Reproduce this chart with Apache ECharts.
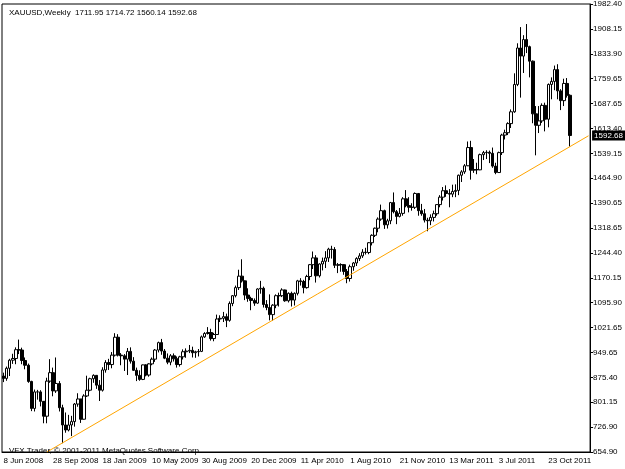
<!DOCTYPE html>
<html><head><meta charset="utf-8">
<script src="https://cdn.jsdelivr.net/npm/echarts@6/dist/echarts.min.js"></script>
<style>html,body{margin:0;padding:0;background:#fff}#c{width:625px;height:469px}</style>
</head><body><div id="c"></div>
<script>
const opens=[880,873,903,927,932,958,957,926,912,864,784,833,833,805,761,865,890,836,858,786,735,720,735,745,797,812,752,821,838,872,
882,853,838,898,920,914,942,995,942,940,930,953,924,897,882,870,913,883,916,930,957,979,954,933,921,940,931,914,937,952,954,956,949,952,953,996,1006,1009,991,1003,1049,1051,1056,1045,1095,1118,1142,1176,1162,1120,1110,1104,
1096,1138,1140,1092,1083,1062,1090,1118,1118,1135,1103,1125,1105,1125,1162,1160,1142,1175,1210,1230,1177,1212,1220,1230,1256,1255,1208,1210,1210,1190,1169,1204,1215,1228,1236,1247,1246,1275,1297,1318,1345,1370,1328,1340,1394,1367,1353,1362,1405,1385,1380,
1380,1421,1370,1361,1342,1340,1350,1361,1388,1410,1429,1421,1419,1427,1430,1475,1485,1503,1557,1490,1492,1491,1536,1542,1543,1540,1502,1483,1542,1594,1601,1628,1663,1744,1852,1828,1877,1856,1813,1657,1623,1636,1682,1641,1744,1753,1788,1725,1696,1747,1711.95];
const closes=[873,903,927,932,958,957,926,912,864,784,833,833,805,761,865,890,836,858,786,735,720,735,745,797,812,752,821,838,872,882,
853,838,898,920,914,942,995,942,940,930,953,924,897,882,870,913,883,916,930,957,979,954,933,921,940,931,914,937,952,954,956,949,952,953,996,1006,1009,991,1003,1049,1051,1056,1045,1095,1118,1142,1176,1162,1120,1110,1104,1096,
1138,1140,1092,1083,1062,1090,1118,1118,1135,1103,1125,1105,1125,1162,1160,1142,1175,1210,1230,1177,1212,1220,1230,1256,1255,1208,1210,1210,1190,1169,1204,1215,1228,1236,1247,1246,1275,1297,1318,1345,1370,1328,1340,1394,1367,1353,1362,1405,1385,1380,1380,
1421,1370,1361,1342,1340,1350,1361,1388,1410,1429,1421,1419,1427,1430,1475,1485,1503,1557,1490,1492,1491,1536,1542,1543,1540,1502,1483,1542,1594,1601,1628,1663,1744,1852,1828,1877,1856,1813,1657,1623,1636,1682,1641,1744,1753,1788,1725,1696,1747,1712,1592.68];
const highs=[890,908,931,946,965,988,964,935,917,866,840,839,838,806,875,930,905,935,865,795,772,765,762,800,829,812,826,881,875,885,
883,868,906,927,931,951,1007,1004,948,945,963,965,936,905,897,914,915,918,935,960,982,990,960,947,945,947,938,940,959,962,972,967,955,960,1000,1010,1025,1020,1008,1062,1060,1070,1065,1101,1120,1148,1195,1226,1163,1140,1115,1110,
1140,1162,1145,1105,1122,1093,1122,1127,1140,1136,1128,1130,1128,1165,1170,1165,1180,1212,1249,1238,1214,1231,1250,1260,1266,1262,1215,1214,1212,1197,1210,1218,1232,1244,1256,1260,1277,1300,1320,1350,1388,1373,1346,1396,1424,1372,1378,1410,1431,1410,1392,
1424,1422,1390,1375,1349,1359,1370,1389,1416,1440,1445,1434,1447,1448,1477,1490,1508,1575,1577,1523,1512,1539,1547,1549,1548,1557,1512,1545,1598,1610,1632,1670,1777,1866,1914,1890,1923,1859,1815,1680,1680,1688,1690,1747,1765,1800,1804,1730,1761,1763,1714.72];
const lows=[862,866,880,916,915,945,915,900,860,776,775,810,790,740,740,860,820,830,775,681,712,716,702,730,789,741,751,818,835,860,
842,806,834,890,898,903,938,938,912,895,883,917,895,865,866,868,879,878,912,922,950,943,930,915,912,923,905,908,929,934,948,935,934,938,951,993,1003,985,983,1002,1040,1040,1025,1041,1087,1113,1135,1157,1105,1100,1075,1088,
1094,1124,1083,1075,1045,1044,1081,1086,1114,1100,1098,1086,1089,1119,1148,1125,1139,1164,1197,1157,1172,1193,1200,1218,1228,1200,1185,1189,1180,1155,1160,1192,1206,1221,1230,1240,1241,1267,1292,1306,1340,1316,1317,1330,1362,1330,1350,1355,1380,1365,1370,
1375,1355,1355,1335,1309,1327,1338,1355,1380,1400,1411,1380,1410,1410,1416,1455,1479,1502,1462,1482,1478,1490,1520,1523,1511,1497,1478,1482,1535,1581,1594,1615,1660,1739,1705,1778,1837,1765,1629,1534,1600,1630,1605,1617,1700,1727,1700,1668,1680,1705,1560.14];
const yTickLabels=['654.90','726.90','801.15','875.40','949.65','1021.65','1095.90','1170.15','1244.40','1318.65','1390.65','1464.90','1539.15','1613.40','1687.65','1759.65','1833.90','1908.15','1982.40'];
const trendStart=[14,654.9], trendEnd=[189,1592];
const lastPrice=1592.68;

const mon=['Jan','Feb','Mar','Apr','May','Jun','Jul','Aug','Sep','Oct','Nov','Dec'];
const cats=[];
for(let i=0;i<190;i++){const d=new Date(Date.UTC(2008,5,8)+i*7*864e5);cats.push(d.getUTCDate()+' '+mon[d.getUTCMonth()]+' '+d.getUTCFullYear());}
const candles=opens.map((o,i)=>[o,closes[i],lows[i],highs[i]]);
const F='"Liberation Sans", Arial, sans-serif';
const chart=echarts.init(document.getElementById('c'));
chart.setOption({
 animation:false,backgroundColor:'#fff',
 title:[{text:'XAUUSD,Weekly  1711.95 1714.72 1560.14 1592.68',left:4,top:4,textStyle:{fontSize:8,fontWeight:'normal',color:'#000',fontFamily:F}},
  {text:'VFX Trader, © 2001-2011 MetaQuotes Software Corp.',left:4,top:442,textStyle:{fontSize:8,fontWeight:'normal',color:'#000',fontFamily:F}}],
 grid:{left:2,right:31,top:3,bottom:17,show:true,borderColor:'#000',borderWidth:1},
 xAxis:{type:'category',data:cats,boundaryGap:true,
  axisLine:{lineStyle:{color:'#000'}},
  axisTick:{interval:(i)=>i%16===0,length:3,lineStyle:{color:'#000'}},
  axisLabel:{interval:(i)=>i%16===0,align:'left',fontSize:8,color:'#000',fontFamily:F,margin:5,hideOverlap:false}},
 yAxis:{type:'value',position:'right',min:654.9,max:1982.4,interval:73.75,splitLine:{show:false},
  axisLine:{show:true,lineStyle:{color:'#000'}},axisTick:{show:true,length:3,lineStyle:{color:'#000'}},
  axisLabel:{fontSize:8,color:'#000',fontFamily:F,margin:3,formatter:v=>yTickLabels[Math.round((v-654.9)/73.75)]||''}},
 series:[
  {type:'candlestick',data:candles,barWidth:3,
   itemStyle:{color:'#fff',color0:'#000',borderColor:'#000',borderColor0:'#000',borderWidth:1},
   markLine:{symbol:'none',silent:true,animation:false,data:[
     [{coord:trendStart,lineStyle:{color:'#FFA500',width:1,type:'solid'},label:{show:false}},{coord:trendEnd}],
     {yAxis:lastPrice,lineStyle:{color:'rgba(0,0,0,0)',width:0},
      label:{show:true,position:'end',formatter:'1592.68',backgroundColor:'#000',color:'#fff',fontSize:8,fontFamily:F,padding:[1,2],distance:2}}]}}
 ]});
</script></body></html>
